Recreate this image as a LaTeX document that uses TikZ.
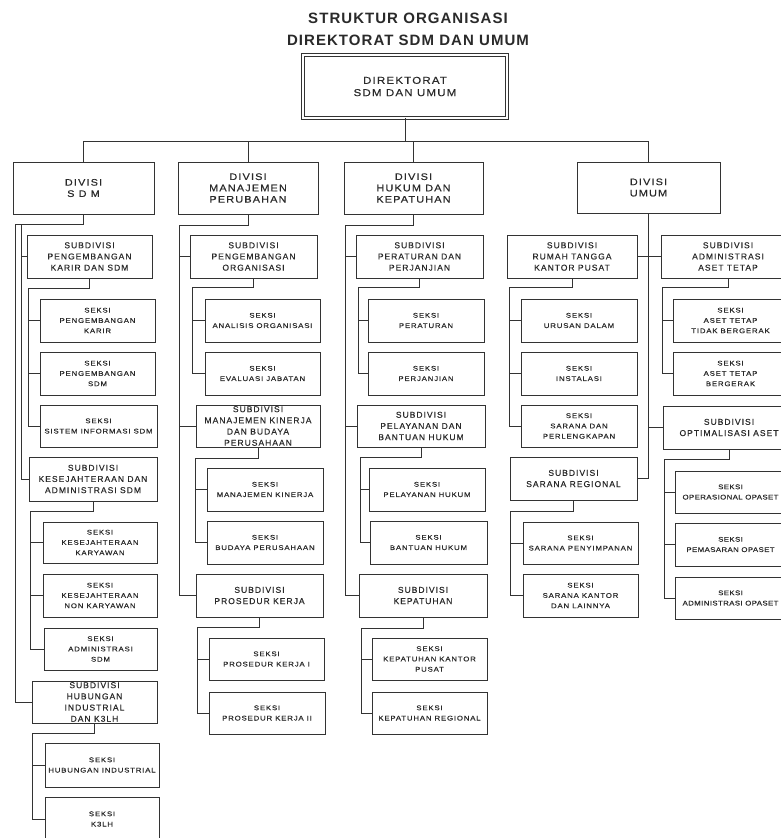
\documentclass[tikz,border=0pt]{standalone}
\usepackage{fontspec}
\setmainfont{Liberation Sans}
\newfontfamily\widefont[FakeStretch=1.15,LetterSpace=12,FakeBold=0.35]{Liberation Sans}
\newfontfamily\tightfont[FakeStretch=1.15,LetterSpace=6,FakeBold=0.35]{Liberation Sans}
\newfontfamily\spacedfont[LetterSpace=12,FakeBold=0.35]{Liberation Sans}
\newfontfamily\headfont[LetterSpace=7]{Liberation Sans}
\definecolor{inkline}{HTML}{333333}
\definecolor{inktext}{HTML}{2A2A2A}

% one box given by its top-left and bottom-right corners (y grows downwards)
\newcommand{\orgbox}[7]{%
  \node[#1, minimum width={(#5-#3)*1pt}, minimum height={(#6-#4)*1pt}] (#2) at (#3,#4) {#7};}

\tikzset{
  box/.style={draw=inkline, fill=white, line width=0.8pt, inner sep=0pt, outer sep=0pt,
              align=center, text=inktext, anchor=north west},
  dirbox/.style={box, double=white, double distance=2.2pt, line width=0.65pt,
                 font=\widefont\fontsize{10}{12.3}\selectfont},
  divbox/.style={box, font=\widefont\fontsize{9.5}{11.3}\selectfont},
  subbox/.style={box, font=\spacedfont\fontsize{8.5}{11.2}\selectfont},
  seksibox/.style={box, font=\widefont\fontsize{6.8}{10.3}\selectfont},
  edgeseksi/.style={box, font=\tightfont\fontsize{6.8}{10.3}\selectfont},
  link/.style={draw=inkline, line width=0.8pt},
}

\begin{document}
\begin{tikzpicture}[x=1pt,y=-1pt]
\useasboundingbox (0,0) rectangle (781,838);
\clip (0,0) rectangle (781,838);
\fill[white] (0,0) rectangle (781,838);

% heading
\node[font=\headfont\bfseries\fontsize{15}{21.7}\selectfont, align=center, text=inktext]
  (title) at (408,29) {STRUKTUR ORGANISASI\\DIREKTORAT SDM DAN UMUM};

% directorate and divisions
\orgbox{dirbox}{dirk}{303}{55}{507}{118}{DIREKTORAT\\SDM DAN UMUM}
\orgbox{divbox}{dsdm}{13}{162}{154}{214}{DIVISI\\S D M}
\orgbox{divbox}{dmp}{178}{162}{318}{214}{DIVISI\\MANAJEMEN\\PERUBAHAN}
\orgbox{divbox}{dhk}{344}{162}{483}{214}{DIVISI\\HUKUM DAN\\KEPATUHAN}
\orgbox{divbox}{dumum}{577}{162}{720}{213}{DIVISI\\UMUM}

% ---- Divisi SDM
\orgbox{subbox}{sdm1}{27}{235}{152}{278}{SUBDIVISI\\PENGEMBANGAN\\KARIR DAN SDM}
\orgbox{seksibox}{sk11}{40}{299}{155}{342}{SEKSI\\PENGEMBANGAN\\KARIR}
\orgbox{seksibox}{sk12}{40}{352}{155}{395}{SEKSI\\PENGEMBANGAN\\SDM}
\orgbox{seksibox}{sk13}{40}{405}{157}{447}{SEKSI\\SISTEM INFORMASI SDM}
\orgbox{subbox}{sdm2}{29}{457}{157}{501}{SUBDIVISI\\KESEJAHTERAAN DAN\\ADMINISTRASI SDM}
\orgbox{seksibox}{sk21}{43}{522}{157}{563}{SEKSI\\KESEJAHTERAAN\\KARYAWAN}
\orgbox{seksibox}{sk22}{43}{574}{157}{617}{SEKSI\\KESEJAHTERAAN\\NON KARYAWAN}
\orgbox{seksibox}{sk23}{44}{628}{157}{670}{SEKSI\\ADMINISTRASI\\SDM}
\orgbox{subbox}{sdm3}{32}{681}{157}{723}{SUBDIVISI\\HUBUNGAN\\INDUSTRIAL\\DAN K3LH}
\orgbox{seksibox}{sk31}{45}{743}{159}{787}{SEKSI\\HUBUNGAN INDUSTRIAL}
\orgbox{seksibox}{sk32}{45}{797}{159}{841}{SEKSI\\K3LH}

% ---- Divisi Manajemen Perubahan
\orgbox{subbox}{mp1}{190}{235}{317}{278}{SUBDIVISI\\PENGEMBANGAN\\ORGANISASI}
\orgbox{seksibox}{mk11}{205}{299}{320}{342}{SEKSI\\ANALISIS ORGANISASI}
\orgbox{seksibox}{mk12}{205}{352}{320}{395}{SEKSI\\EVALUASI JABATAN}
\orgbox{subbox}{mp2}{196}{405}{320}{447}{SUBDIVISI\\MANAJEMEN KINERJA\\DAN BUDAYA\\PERUSAHAAN}
\orgbox{seksibox}{mk21}{207}{468}{323}{511}{SEKSI\\MANAJEMEN KINERJA}
\orgbox{seksibox}{mk22}{207}{521}{323}{564}{SEKSI\\BUDAYA PERUSAHAAN}
\orgbox{subbox}{mp3}{196}{574}{323}{617}{SUBDIVISI\\PROSEDUR KERJA}
\orgbox{seksibox}{mk31}{209}{638}{324}{680}{SEKSI\\PROSEDUR KERJA I}
\orgbox{seksibox}{mk32}{209}{692}{325}{734}{SEKSI\\PROSEDUR KERJA II}

% ---- Divisi Hukum dan Kepatuhan
\orgbox{subbox}{hk1}{356}{235}{483}{278}{SUBDIVISI\\PERATURAN DAN\\PERJANJIAN}
\orgbox{seksibox}{hs11}{368}{299}{484}{342}{SEKSI\\PERATURAN}
\orgbox{seksibox}{hs12}{368}{352}{484}{395}{SEKSI\\PERJANJIAN}
\orgbox{subbox}{hk2}{357}{405}{485}{447}{SUBDIVISI\\PELAYANAN DAN\\BANTUAN HUKUM}
\orgbox{seksibox}{hs21}{369}{468}{485}{511}{SEKSI\\PELAYANAN HUKUM}
\orgbox{seksibox}{hs22}{370}{521}{487}{564}{SEKSI\\BANTUAN HUKUM}
\orgbox{subbox}{hk3}{359}{574}{487}{617}{SUBDIVISI\\KEPATUHAN}
\orgbox{seksibox}{hs31}{372}{638}{487}{680}{SEKSI\\KEPATUHAN KANTOR\\PUSAT}
\orgbox{seksibox}{hs32}{372}{692}{487}{734}{SEKSI\\KEPATUHAN REGIONAL}

% ---- Divisi Umum
\orgbox{subbox}{um1}{507}{235}{637}{278}{SUBDIVISI\\RUMAH TANGGA\\KANTOR PUSAT}
\orgbox{seksibox}{us11}{521}{299}{637}{342}{SEKSI\\URUSAN DALAM}
\orgbox{seksibox}{us12}{521}{352}{637}{395}{SEKSI\\INSTALASI}
\orgbox{seksibox}{us13}{521}{405}{637}{447}{SEKSI\\SARANA DAN\\PERLENGKAPAN}
\orgbox{subbox}{um2}{510}{457}{637}{500}{SUBDIVISI\\SARANA REGIONAL}
\orgbox{seksibox}{us21}{523}{522}{638}{564}{SEKSI\\SARANA PENYIMPANAN}
\orgbox{seksibox}{us22}{523}{574}{638}{617}{SEKSI\\SARANA KANTOR\\DAN LAINNYA}
\orgbox{subbox}{um3}{661}{235}{795}{278}{SUBDIVISI\\ADMINISTRASI\\ASET TETAP}
\orgbox{seksibox}{us31}{673}{299}{788}{342}{SEKSI\\ASET TETAP\\TIDAK BERGERAK}
\orgbox{seksibox}{us32}{673}{352}{788}{395}{SEKSI\\ASET TETAP\\BERGERAK}
\orgbox{subbox}{um4}{663}{406}{795}{449}{SUBDIVISI\\OPTIMALISASI ASET}
% these boxes run past the right edge, so their text is set a little tighter
\orgbox{edgeseksi}{us41}{675}{471}{786}{513}{SEKSI\\OPERASIONAL OPASET}
\orgbox{edgeseksi}{us42}{675}{523}{786}{566}{SEKSI\\PEMASARAN OPASET}
\orgbox{edgeseksi}{us43}{675}{577}{786}{619}{SEKSI\\ADMINISTRASI OPASET}

% ---- connectors: directorate to divisions
\path (dirk.south) ++(0,23) coordinate (bus);
\draw[link] (dirk.south) -- (bus);
\draw[link] (dsdm.north) |- (bus);
\draw[link] (dumum.north) |- (bus);
\draw[link] (dmp.north) -- (dmp.north |- bus);
\draw[link] (dhk.north) -- (dhk.north |- bus);

% divisions to subdivisions
\coordinate (sdmA) at (15,224);
\coordinate (sdmB) at (21,224);
\draw[link] (dsdm.south) |- (sdmA);
\draw[link] (sdmB) |- (sdm1.west);
\draw[link] (sdmB) |- (sdm2.west);
\draw[link] (sdmA) |- (sdm3.west);

\coordinate (mpA) at (179,225);
\draw[link] (dmp.south) |- (mpA);
\foreach \c in {mp1,mp2,mp3} \draw[link] (mpA) |- (\c.west);

\coordinate (hkA) at (345,225);
\draw[link] (dhk.south) |- (hkA);
\foreach \c in {hk1,hk2,hk3} \draw[link] (hkA) |- (\c.west);

\draw[link] (dumum.south) |- (um2.east);
\draw[link] (um1.east) -- (um3.west);
\draw[link] (dumum.south |- um4.west) -- (um4.west);

% subdivisions to sections
\coordinate (e11) at (28,288);
\draw[link] (sdm1.south) |- (e11);
\foreach \c in {sk11,sk12,sk13} \draw[link] (e11) |- (\c.west);
\coordinate (e12) at (30,511);
\draw[link] (sdm2.south) |- (e12);
\foreach \c in {sk21,sk22,sk23} \draw[link] (e12) |- (\c.west);
\coordinate (e13) at (32,733);
\draw[link] (sdm3.south) |- (e13);
\foreach \c in {sk31,sk32} \draw[link] (e13) |- (\c.west);

\coordinate (e21) at (192,287);
\draw[link] (mp1.south) |- (e21);
\foreach \c in {mk11,mk12} \draw[link] (e21) |- (\c.west);
\coordinate (e22) at (195,458);
\draw[link] (mp2.south) |- (e22);
\foreach \c in {mk21,mk22} \draw[link] (e22) |- (\c.west);
\coordinate (e23) at (197,627);
\draw[link] (mp3.south) |- (e23);
\foreach \c in {mk31,mk32} \draw[link] (e23) |- (\c.west);

\coordinate (e31) at (358,287);
\draw[link] (hk1.south) |- (e31);
\foreach \c in {hs11,hs12} \draw[link] (e31) |- (\c.west);
\coordinate (e32) at (360,457);
\draw[link] (hk2.south) |- (e32);
\foreach \c in {hs21,hs22} \draw[link] (e32) |- (\c.west);
\coordinate (e33) at (361,628);
\draw[link] (hk3.south) |- (e33);
\foreach \c in {hs31,hs32} \draw[link] (e33) |- (\c.west);

\coordinate (e41) at (509,287);
\draw[link] (um1.south) |- (e41);
\foreach \c in {us11,us12,us13} \draw[link] (e41) |- (\c.west);
\coordinate (e42) at (510,511);
\draw[link] (um2.south) |- (e42);
\foreach \c in {us21,us22} \draw[link] (e42) |- (\c.west);
\coordinate (e43) at (662,287);
\draw[link] (um3.south) |- (e43);
\foreach \c in {us31,us32} \draw[link] (e43) |- (\c.west);
\coordinate (e44) at (664,459);
\draw[link] (um4.south) |- (e44);
\foreach \c in {us41,us42,us43} \draw[link] (e44) |- (\c.west);
\end{tikzpicture}
\end{document}
